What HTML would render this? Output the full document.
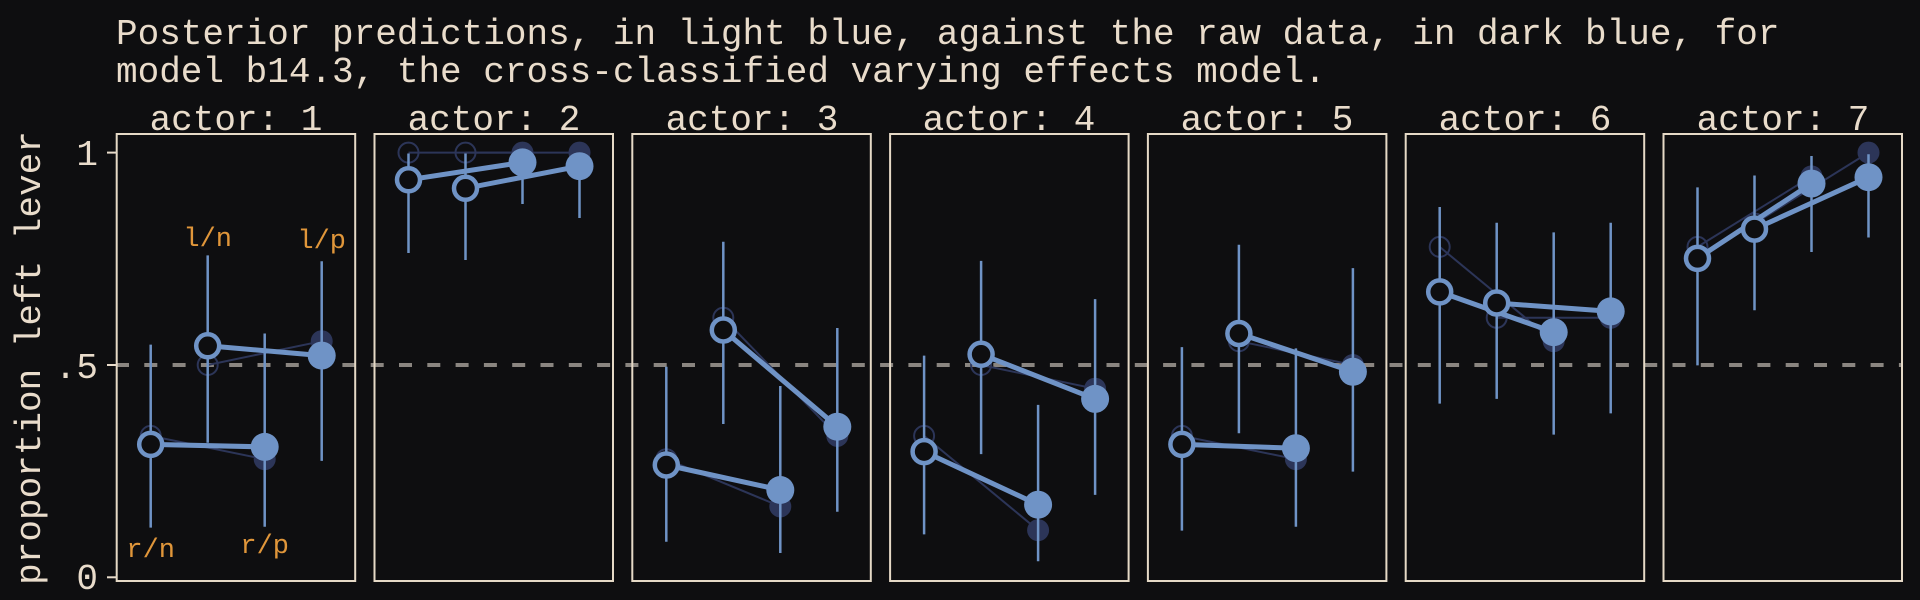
<!DOCTYPE html>
<html><head><meta charset="utf-8"><style>
html,body{margin:0;padding:0;background:#0e0e10;}
svg{display:block}
text{font-family:"Liberation Mono",monospace;}
</style></head><body>
<svg width="1920" height="600" viewBox="0 0 1920 600" xmlns="http://www.w3.org/2000/svg">
<rect width="1920" height="600" fill="#0e0e10"/>
<g fill="#e9dccb" font-size="36">
<text x="116" y="44">Posterior predictions, in light blue, against the raw data, in dark blue, for</text>
<text x="116" y="82">model b14.3, the cross-classified varying effects model.</text>
<text x="236" y="130" text-anchor="middle">actor: 1</text>
<text x="494" y="130" text-anchor="middle">actor: 2</text>
<text x="752" y="130" text-anchor="middle">actor: 3</text>
<text x="1009" y="130" text-anchor="middle">actor: 4</text>
<text x="1267" y="130" text-anchor="middle">actor: 5</text>
<text x="1525" y="130" text-anchor="middle">actor: 6</text>
<text x="1783" y="130" text-anchor="middle">actor: 7</text>
<text x="98" y="165" text-anchor="end">1</text>
<text x="98" y="378" text-anchor="end">.5</text>
<text x="98" y="589" text-anchor="end">0</text>
<text transform="translate(40,358) rotate(-90)" text-anchor="middle">proportion left lever</text>
</g>
<g stroke="#e9dccb" stroke-width="2">
<line x1="107" y1="152.6" x2="116" y2="152.6"/>
<line x1="107" y1="365" x2="116" y2="365"/>
<line x1="107" y1="577.3" x2="116" y2="577.3"/>
</g>
<line x1="116" y1="365" x2="1902" y2="365" stroke="#8a8580" stroke-width="4" stroke-dasharray="13 15.3"/>
<g fill="none" stroke="#e5d9c6" stroke-width="2">
<rect x="116.7" y="134" width="238.5" height="447"/>
<rect x="374.5" y="134" width="238.5" height="447"/>
<rect x="632.3" y="134" width="238.5" height="447"/>
<rect x="890.1" y="134" width="238.5" height="447"/>
<rect x="1147.9" y="134" width="238.5" height="447"/>
<rect x="1405.7" y="134" width="238.5" height="447"/>
<rect x="1663.5" y="134" width="238.5" height="447"/>
</g>
<!-- raw data -->
<g stroke="#2c3558" stroke-width="2" fill="none">
<polyline points="150.7,435.9 264.7,459.2"/><polyline points="207.7,365 321.7,341.2"/>
<polyline points="408.5,152.6 522.5,152.6"/><polyline points="465.5,152.6 579.5,152.6"/>
<polyline points="666.3,459.2 780.3,506.4"/><polyline points="723.3,317.8 837.3,435.9"/>
<polyline points="924.1,435.9 1038.1,530.2"/><polyline points="981.1,365 1095.1,388.7"/>
<polyline points="1181.9,435.9 1295.9,459.2"/><polyline points="1238.9,341.2 1352.9,365"/>
<polyline points="1439.7,246.9 1553.7,341.2"/><polyline points="1496.7,317.8 1610.7,317.8"/>
<polyline points="1697.5,246.9 1811.5,176.4"/><polyline points="1754.5,223.5 1868.5,152.6"/>
<circle cx="150.7" cy="435.9" r="10"/><circle cx="207.7" cy="365" r="10"/>
<circle cx="408.5" cy="152.6" r="10"/><circle cx="465.5" cy="152.6" r="10"/>
<circle cx="666.3" cy="459.2" r="10"/><circle cx="723.3" cy="317.8" r="10"/>
<circle cx="924.1" cy="435.9" r="10"/><circle cx="981.1" cy="365" r="10"/>
<circle cx="1181.9" cy="435.9" r="10"/><circle cx="1238.9" cy="341.2" r="10"/>
<circle cx="1439.7" cy="246.9" r="10"/><circle cx="1496.7" cy="317.8" r="10"/>
<circle cx="1697.5" cy="246.9" r="10"/><circle cx="1754.5" cy="223.5" r="10"/>
</g>
<g fill="#2c3558">
<circle cx="264.7" cy="459.2" r="11"/><circle cx="321.7" cy="341.2" r="11"/>
<circle cx="522.5" cy="152.6" r="11"/><circle cx="579.5" cy="152.6" r="11"/>
<circle cx="780.3" cy="506.4" r="11"/><circle cx="837.3" cy="435.9" r="11"/>
<circle cx="1038.1" cy="530.2" r="11"/><circle cx="1095.1" cy="388.7" r="11"/>
<circle cx="1295.9" cy="459.2" r="11"/><circle cx="1352.9" cy="365" r="11"/>
<circle cx="1553.7" cy="341.2" r="11"/><circle cx="1610.7" cy="317.8" r="11"/>
<circle cx="1811.5" cy="176.4" r="11"/><circle cx="1868.5" cy="152.6" r="11"/>
</g>
<!-- intervals -->
<g stroke="#6f93c6" stroke-width="2.5">
<line x1="150.7" y1="527.6" x2="150.7" y2="344.6"/><line x1="207.7" y1="442.7" x2="207.7" y2="255.4"/>
<line x1="264.7" y1="526.8" x2="264.7" y2="333.5"/><line x1="321.7" y1="460.9" x2="321.7" y2="261.3"/>
<line x1="408.5" y1="253" x2="408.5" y2="153.5"/><line x1="465.5" y1="260" x2="465.5" y2="153.5"/>
<line x1="522.5" y1="204" x2="522.5" y2="153.5"/><line x1="579.5" y1="218" x2="579.5" y2="153.5"/>
<line x1="666.3" y1="541.7" x2="666.3" y2="366.7"/><line x1="723.3" y1="424" x2="723.3" y2="241.7"/>
<line x1="780.3" y1="553" x2="780.3" y2="386"/><line x1="837.3" y1="511.7" x2="837.3" y2="328"/>
<line x1="924.1" y1="534.4" x2="924.1" y2="355.6"/><line x1="981.1" y1="454.1" x2="981.1" y2="260.9"/>
<line x1="1038.1" y1="561.2" x2="1038.1" y2="404.9"/><line x1="1095.1" y1="494.9" x2="1095.1" y2="299.1"/>
<line x1="1181.9" y1="530.6" x2="1181.9" y2="347.1"/><line x1="1238.9" y1="433.3" x2="1238.9" y2="244.8"/>
<line x1="1295.9" y1="526.8" x2="1295.9" y2="348.4"/><line x1="1352.9" y1="471.6" x2="1352.9" y2="268.1"/>
<line x1="1439.7" y1="403.6" x2="1439.7" y2="207"/><line x1="1496.7" y1="398.9" x2="1496.7" y2="222.7"/>
<line x1="1553.7" y1="434.6" x2="1553.7" y2="232.4"/><line x1="1610.7" y1="413.4" x2="1610.7" y2="222.7"/>
<line x1="1697.5" y1="365.4" x2="1697.5" y2="187.4"/><line x1="1754.5" y1="310.2" x2="1754.5" y2="175.5"/>
<line x1="1811.5" y1="252" x2="1811.5" y2="156"/><line x1="1868.5" y1="237.5" x2="1868.5" y2="154.3"/>
</g>
<!-- posterior lines -->
<g stroke="#6f93c6" stroke-width="5" fill="none">
<polyline points="150.7,444.4 264.7,446.9"/><polyline points="207.7,345.8 321.7,355.6"/>
<polyline points="408.5,179.8 522.5,162.4"/><polyline points="465.5,188.3 579.5,166.2"/>
<polyline points="666.3,465 780.3,490"/><polyline points="723.3,330 837.3,426.7"/>
<polyline points="924.1,451.6 1038.1,504.7"/><polyline points="981.1,354.3 1095.1,398.9"/>
<polyline points="1181.9,444.4 1295.9,448.2"/><polyline points="1238.9,333.5 1352.9,371.8"/>
<polyline points="1439.7,291.9 1553.7,332.2"/><polyline points="1496.7,303 1610.7,311.4"/>
<polyline points="1697.5,258.4 1811.5,183.6"/><polyline points="1754.5,229.1 1868.5,177.2"/>
</g>
<g stroke="#6f93c6" stroke-width="4.5" fill="#0e0e10">
<circle cx="150.7" cy="444.4" r="11.5"/><circle cx="207.7" cy="345.8" r="11.5"/>
<circle cx="408.5" cy="179.8" r="11.5"/><circle cx="465.5" cy="188.3" r="11.5"/>
<circle cx="666.3" cy="465" r="11.5"/><circle cx="723.3" cy="330" r="11.5"/>
<circle cx="924.1" cy="451.6" r="11.5"/><circle cx="981.1" cy="354.3" r="11.5"/>
<circle cx="1181.9" cy="444.4" r="11.5"/><circle cx="1238.9" cy="333.5" r="11.5"/>
<circle cx="1439.7" cy="291.9" r="11.5"/><circle cx="1496.7" cy="303" r="11.5"/>
<circle cx="1697.5" cy="258.4" r="11.5"/><circle cx="1754.5" cy="229.1" r="11.5"/>
</g>
<g fill="#6f93c6">
<circle cx="264.7" cy="446.9" r="14"/><circle cx="321.7" cy="355.6" r="14"/>
<circle cx="522.5" cy="162.4" r="14"/><circle cx="579.5" cy="166.2" r="14"/>
<circle cx="780.3" cy="490" r="14"/><circle cx="837.3" cy="426.7" r="14"/>
<circle cx="1038.1" cy="504.7" r="14"/><circle cx="1095.1" cy="398.9" r="14"/>
<circle cx="1295.9" cy="448.2" r="14"/><circle cx="1352.9" cy="371.8" r="14"/>
<circle cx="1553.7" cy="332.2" r="14"/><circle cx="1610.7" cy="311.4" r="14"/>
<circle cx="1811.5" cy="183.6" r="14"/><circle cx="1868.5" cy="177.2" r="14"/>
</g>
<g fill="#e0963a" font-size="27" text-anchor="middle">
<text x="207.7" y="246">l/n</text>
<text x="321.7" y="248">l/p</text>
<text x="150.7" y="557">r/n</text>
<text x="264.7" y="553">r/p</text>
</g>
</svg>
</body></html>
